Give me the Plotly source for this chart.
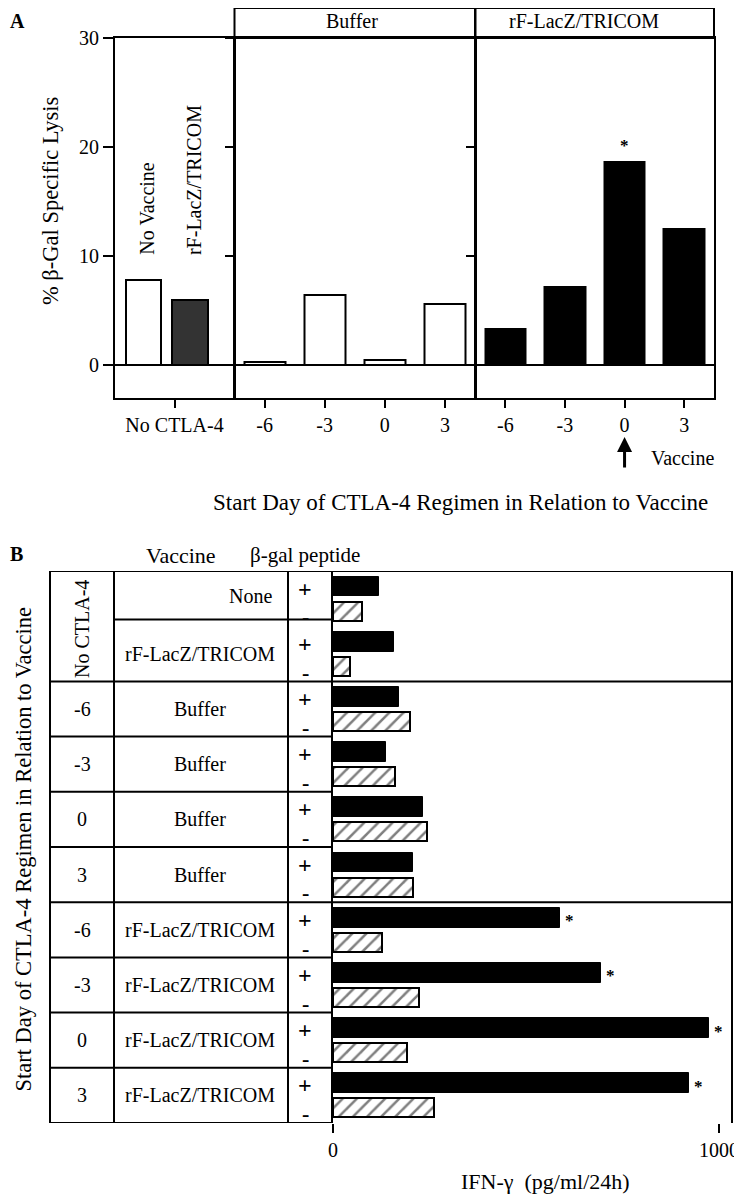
import plotly.graph_objects as go

# The page places the figure 8px from the window's top-left corner, so the
# figure is made 8px smaller and every layout position is measured in window pixels.
OFF = 8
W, H = 742 - OFF, 1196 - OFF
FONT = "Liberation Serif"

# ---------------- Panel A data ----------------
ctrl_category = "No CTLA-4"
ctrl_groups = ["No Vaccine", "rF-LacZ/TRICOM"]
ctrl_lysis = [7.8, 6.0]
start_days = ["-6", "-3", "0", "3"]
buffer_lysis = [0.3, 6.4, 0.5, 5.6]
vaccine_lysis = [3.3, 7.2, 18.6, 12.5]
vaccine_sig = [False, False, True, False]
a_yticks = [0, 10, 20, 30]
a_headers = ["Buffer", "rF-LacZ/TRICOM"]

# ---------------- Panel B data ----------------
b_start = ["No CTLA-4", "No CTLA-4", "-6", "-3", "0", "3", "-6", "-3", "0", "3"]
b_vaccine = ["None", "rF-LacZ/TRICOM", "Buffer", "Buffer", "Buffer", "Buffer",
             "rF-LacZ/TRICOM", "rF-LacZ/TRICOM", "rF-LacZ/TRICOM", "rF-LacZ/TRICOM"]
ifn_plus = [119, 158, 171, 137, 233, 207, 588, 694, 974, 922]
ifn_minus = [75, 44, 200, 161, 243, 208, 127, 223, 192, 262]
ifn_sig = [False, False, False, False, False, False, True, True, True, True]
b_xticks = [0, 1000]


def px(x):
    return (x - OFF) / W


def py(y):
    return 1 - (y - OFF) / H


fig = go.Figure()

# ---- Panel A bars ----
ctrl_fill = ["white", "#333333"]
ctrl_offset = [-0.41, -0.02]
for name, val, col, off in zip(ctrl_groups, ctrl_lysis, ctrl_fill, ctrl_offset):
    fig.add_trace(go.Bar(x=[ctrl_category], y=[val], name=name, xaxis="x", yaxis="y",
                         offset=off, width=0.30,
                         marker=dict(color=col, line=dict(color="black", width=2))))

fig.add_trace(go.Bar(x=start_days, y=buffer_lysis, name="Buffer", xaxis="x2", yaxis="y2",
                     offset=-0.34, width=0.68,
                     marker=dict(color="white", line=dict(color="black", width=2))))
fig.add_trace(go.Bar(x=start_days, y=vaccine_lysis, name="rF-LacZ/TRICOM", xaxis="x3", yaxis="y3",
                     offset=-0.34, width=0.68,
                     marker=dict(color="black", line=dict(color="black", width=2))))

# ---- Panel B bars ----
b_keys = [f"{s} / {v}" for s, v in zip(b_start, b_vaccine)]
fig.add_trace(go.Bar(x=ifn_plus, y=b_keys, orientation="h", name="+", xaxis="x4", yaxis="y4",
                     offset=-0.40, width=0.36,
                     marker=dict(color="black", line=dict(color="black", width=1))))
fig.add_trace(go.Bar(x=ifn_minus, y=b_keys, orientation="h", name="-", xaxis="x4", yaxis="y4",
                     offset=0.055, width=0.345,
                     marker=dict(color="white", line=dict(color="black", width=2),
                                 pattern=dict(shape="/", fgcolor="black", bgcolor="white",
                                              size=10, solidity=0.25))))

axis_common = dict(showline=True, mirror=True, linecolor="black", linewidth=2,
                   showgrid=False, zeroline=False)
tickfont = dict(family=FONT, size=20, color="black")
yA = dict(domain=[py(398), py(38)], tickvals=a_yticks, ticks="outside", tickwidth=2,
          tickcolor="black", showline=True, mirror=True, linecolor="black", linewidth=2,
          showgrid=False, zeroline=True, zerolinecolor="black", zerolinewidth=2)

layout = dict(
    width=W, height=H, autosize=False,
    margin=dict(l=0, r=0, t=0, b=0, pad=0, autoexpand=False),
    paper_bgcolor="white", plot_bgcolor="white", showlegend=False,
    font=dict(family=FONT, size=20, color="black"),
    xaxis=dict(domain=[px(115), px(234)], anchor="y", type="category",
               categoryarray=[ctrl_category], range=[-0.5, 0.5],
               ticks="outside", ticklen=8, tickwidth=2, tickcolor="black",
               tickfont=tickfont, **axis_common),
    yaxis=dict(anchor="x", range=[-3.03, 30], ticklen=10, tickfont=tickfont, **yA),
    xaxis2=dict(domain=[px(234.5), px(475)], anchor="y2", type="category",
                categoryarray=start_days, range=[-0.5, 3.5],
                ticks="outside", ticklen=8, tickwidth=2, tickcolor="black",
                tickfont=tickfont, **axis_common),
    yaxis2=dict(anchor="x2", matches="y", showticklabels=False, ticklen=8, **yA),
    xaxis3=dict(domain=[px(475.5), px(714)], anchor="y3", type="category",
                categoryarray=start_days, range=[-0.5, 3.5],
                ticks="outside", ticklen=8, tickwidth=2, tickcolor="black",
                tickfont=tickfont, **axis_common),
    yaxis3=dict(anchor="x3", matches="y", showticklabels=False, ticklen=8, **yA),
    xaxis4=dict(domain=[px(333), px(731)], anchor="y4", range=[0, 1031],
                tickvals=b_xticks, ticks="outside", ticklen=9, tickwidth=2, tickcolor="black",
                tickfont=tickfont, showline=False, showgrid=False, zeroline=False),
    yaxis4=dict(domain=[py(1123), py(571)], anchor="x4", type="category",
                categoryarray=b_keys, range=[len(b_keys) - 0.5, -0.5],
                showticklabels=False, ticks="", showline=True, mirror=True,
                linecolor="black", linewidth=2, showgrid=False, zeroline=False),
    bargap=0,
)
fig.update_layout(**layout)

shapes = []
annotations = []


def txt(s=20, bold=False):
    return dict(family=FONT, size=s, color="black", weight="bold" if bold else "normal")


def note(text, x, y, xref="paper", yref="paper", size=20, bold=False, **kw):
    d = dict(text=text, xref=xref, yref=yref, x=x, y=y, showarrow=False,
             xanchor="center", yanchor="middle", font=txt(size, bold))
    d.update(kw)
    annotations.append(d)


# ---- Panel A header boxes ----
for ax, label, cx in zip(["x2", "x3"], a_headers, [352, 584]):
    shapes.append(dict(type="rect", xref=f"{ax} domain", yref="paper", x0=0, x1=1,
                       y0=py(38), y1=min(py(2.5), 1),
                       line=dict(color="black", width=2)))
    note(label, px(cx), py(21), size=20)

# rotated labels above control bars
for name, off in zip(ctrl_groups, ctrl_offset):
    note(name, off + 0.15, 9.9, xref="x", yref="y", size=20, xshift=4,
         yanchor="bottom", textangle=-90)

# significance asterisks A
for i, (v, s) in enumerate(zip(vaccine_lysis, vaccine_sig)):
    if s:
        note("*", i, v, xref="x3", yref="y3", size=17, bold=True,
             yanchor="bottom", yshift=5)

# vaccine arrow under day 0
annotations.append(dict(text="", xref="x3", yref="paper", x=start_days.index("0"), y=py(437),
                        ax=0, ay=32, showarrow=True, arrowhead=2, arrowsize=1,
                        arrowwidth=3, arrowcolor="black"))
note("Vaccine", px(682), py(458), size=20)

note("% β-Gal Specific Lysis", px(51), py(201), size=22.5, textangle=-90)
note("Start Day of CTLA-4 Regimen in Relation to Vaccine", px(460), py(502), size=23)
note("A", 0, 1, size=20, bold=True, xanchor="left", yanchor="top")
note("B", 0, py(554), size=20, bold=True, xanchor="left")

# ---- Panel B table ----
n = len(b_keys)
X_L, X_C1, X_C2, X_AX, X_R = 50, 114, 288, 333, 731
line = dict(color="black", width=2)
for xv in [X_L, X_C1, X_C2]:
    shapes.append(dict(type="line", xref="paper", yref="y4", x0=px(xv), x1=px(xv),
                       y0=-0.5, y1=n - 0.5, line=line))
shapes.append(dict(type="line", xref="paper", yref="y4", x0=px(X_L), x1=px(X_R),
                   y0=-0.5, y1=-0.5, line=line))
shapes.append(dict(type="line", xref="paper", yref="y4", x0=px(X_L), x1=px(X_AX),
                   y0=n - 0.5, y1=n - 0.5, line=line))
groups = ["none" if s == "No CTLA-4" else v for s, v in zip(b_start, b_vaccine)]
for i in range(n - 1):
    if groups[i] != groups[i + 1]:
        shapes.append(dict(type="line", xref="paper", yref="y4", x0=px(X_L), x1=px(X_R),
                           y0=i + 0.5, y1=i + 0.5, line=line))
    elif b_start[i] == b_start[i + 1]:
        shapes.append(dict(type="line", xref="paper", yref="y4", x0=px(X_C1), x1=px(X_AX),
                           y0=i + 0.38, y1=i + 0.38, line=line))
    else:
        shapes.append(dict(type="line", xref="paper", yref="y4", x0=px(X_L), x1=px(X_AX),
                           y0=i + 0.5, y1=i + 0.5, line=line))

# column 1 labels
done_merge = False
for i, s in enumerate(b_start):
    if s == "No CTLA-4":
        if not done_merge:
            cnt = b_start.count(s)
            note(s, px(82), i + (cnt - 1) / 2 + 0.05, yref="y4", size=20, textangle=-90)
            done_merge = True
    else:
        note(s, px(82), i, yref="y4", size=20)
# column 2 labels
for i, v in enumerate(b_vaccine):
    if v == "None":
        note(v, px(274), i - 0.05, yref="y4", size=20, xanchor="right")
    else:
        note(v, px(200), i, yref="y4", size=20)
# column 3 +/- signs
for i in range(n):
    note("+", px(305), i - 0.18, yref="y4", size=24, bold=True)
    note("-", px(305), i + 0.33, yref="y4", size=22, bold=True)
# top border of bar area
shapes.append(dict(type="line", xref="paper", yref="y4", x0=px(X_AX), x1=px(X_R),
                   y0=-0.5, y1=-0.5, line=line))

# significance asterisks B
for i, (v, s) in enumerate(zip(ifn_plus, ifn_sig)):
    if s:
        note("*", v, i - 0.22, xref="x4", yref="y4", size=17, bold=True,
             xanchor="left", xshift=3, yshift=-3)

note("Vaccine", px(181), py(555), size=22)
note("β-gal peptide", px(305), py(555), size=21)
note("Start Day of CTLA-4 Regimen in Relation to Vaccine", 0, py(850),
     size=22.5, textangle=-90, xanchor="left")
note("IFN-γ\u00a0\u00a0(pg/ml/24h)", px(545), py(1181), size=22)

fig.update_layout(shapes=shapes, annotations=annotations)
fig.write_html("out.html")
